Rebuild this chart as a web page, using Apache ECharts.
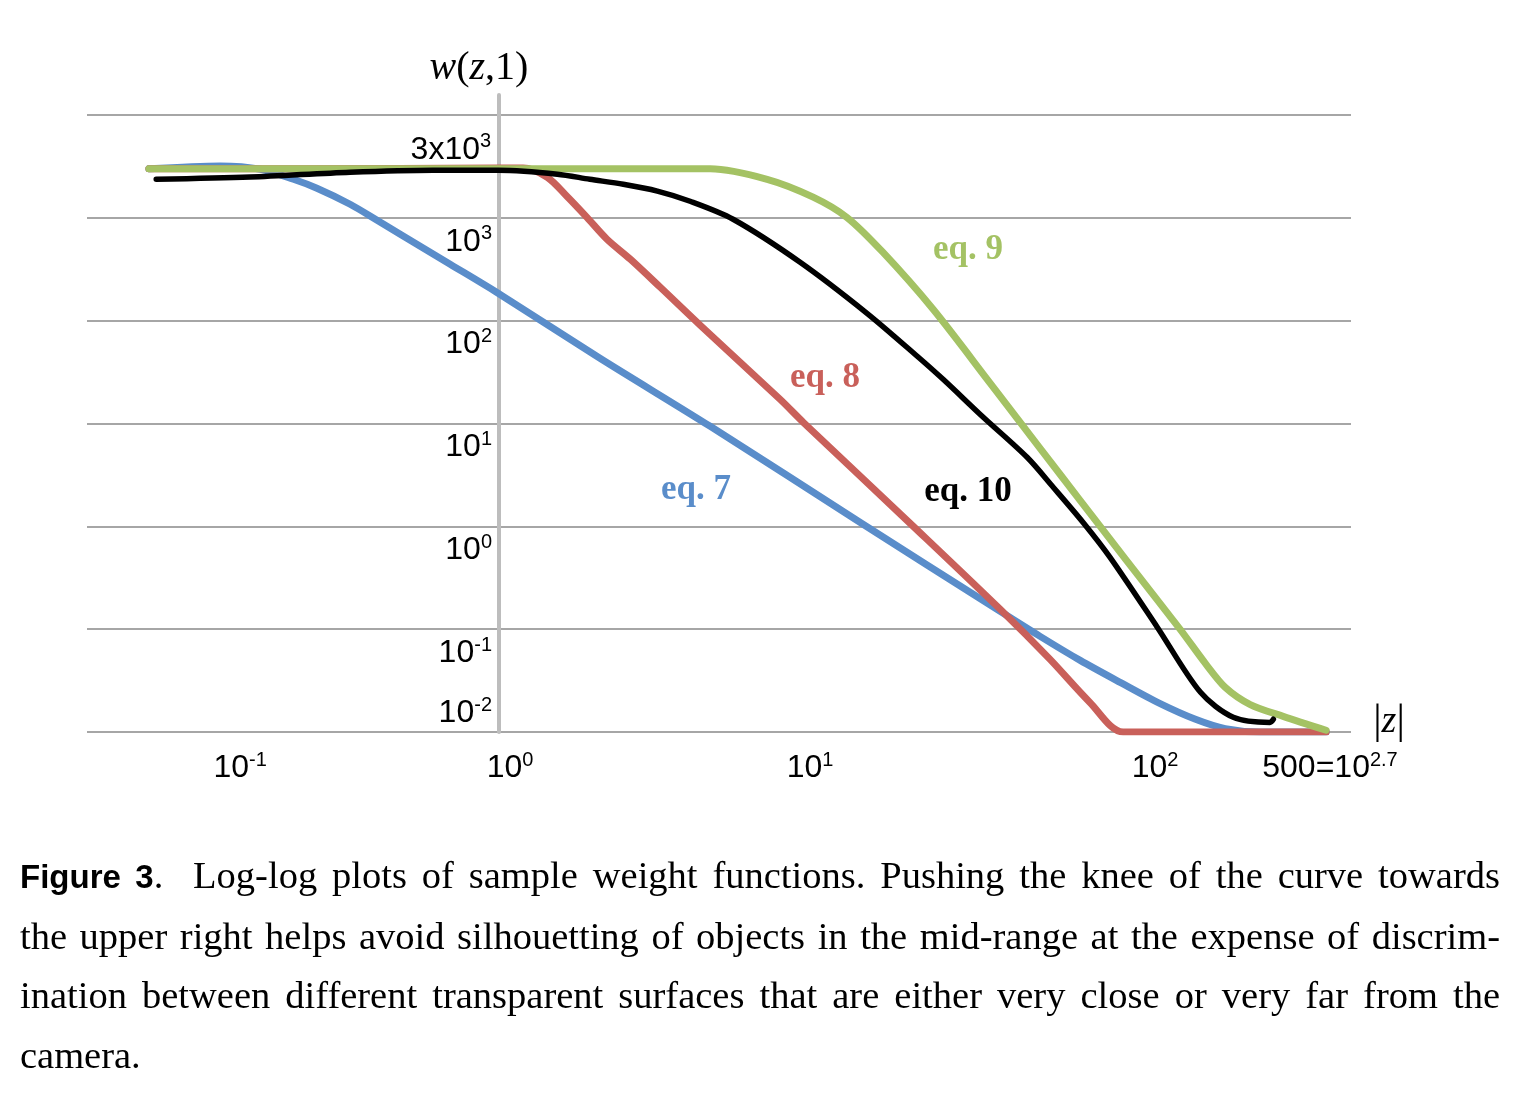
<!DOCTYPE html>
<html>
<head>
<meta charset="utf-8">
<script src="https://cdn.jsdelivr.net/npm/echarts@6/dist/echarts.min.js"></script>
<style>
html,body{margin:0;padding:0;background:#fff;}
#chart{position:absolute;left:0;top:0;width:1526px;height:1106px;}
#caption{position:absolute;left:20px;top:846px;width:1480px;font-family:"Liberation Serif","Times New Roman",serif;font-size:38.5px;line-height:59.5px;color:#000;}
#caption .ln{white-space:nowrap;text-align:justify;text-align-last:justify;}
#caption .last{text-align:left;text-align-last:left;}
#caption b{font-family:"Liberation Sans",Arial,sans-serif;font-weight:bold;font-size:33px;}
</style>
</head>
<body>
<div id="chart"></div>
<div id="caption">
<div class="ln"><b>Figure 3</b>.&nbsp; Log-log plots of sample weight functions. Pushing the knee of the curve towards</div>
<div class="ln">the upper right helps avoid silhouetting of objects in the mid-range at the expense of discrim-</div>
<div class="ln">ination between different transparent surfaces that are either very close or very far from the</div>
<div class="ln last">camera.</div>
</div>
<script>
// ---- data: |z| and w(z,1) ----
const eq7Z = [0.0785, 0.132, 0.177, 0.225, 0.267, 0.340, 0.414, 0.490, 0.705, 1.00, 2.10, 4.69, 14.0, 37.9, 51.9, 69.5, 93.0, 124, 161, 200, 258, 417];
const eq7W = [3000, 3200, 2970, 2370, 1940, 1356, 948, 692, 354, 185, 43.1, 9.39, 1.09, 0.156, 0.0851, 0.0497, 0.0304, 0.0190, 0.0133, 0.0108, 0.01, 0.01];

const eq8Z = [0.0785, 0.236, 1.00, 1.20, 1.43, 1.65, 1.91, 2.21, 2.62, 3.26, 4.36, 7.80, 9.23, 20.6, 38.8, 55.8, 74.6, 95.0, 167, 417];
const eq8W = [3000, 3000, 3050, 3050, 2480, 1620, 1010, 619, 396, 211, 90.2, 17.2, 10.3, 1.0, 0.156, 0.0508, 0.0194, 0.01, 0.01, 0.01];

const eq9Z = [0.0785, 0.236, 1.00, 4.69, 7.10, 9.93, 12.7, 16.5, 23.8, 36.1, 43.9, 60.0, 80.4, 97.9, 144, 173, 200, 240, 305, 417];
const eq9W = [3000, 3000, 3000, 3000, 2370, 1590, 1010, 463, 129, 24.6, 11.2, 3.21, 1.0, 0.457, 0.0996, 0.0465, 0.0272, 0.0185, 0.0142, 0.0104];

const eq10Z = [0.0828, 0.164, 0.340, 0.623, 1.00, 1.54, 1.95, 2.49, 3.19, 4.05, 5.54, 9.03, 14.7, 21.2, 25.6, 34.3, 47.2, 57.1, 71.0, 86.4, 122, 167, 212, 277, 284];
const eq10W = [2370, 2490, 2780, 2910, 2900, 2660, 2370, 2120, 1820, 1450, 969, 370, 118, 45.1, 26.9, 11.5, 4.69, 2.40, 1.09, 0.499, 0.104, 0.0243, 0.0139, 0.0124, 0.0133];

const seriesNames = ['eq. 7', 'eq. 8', 'eq. 9', 'eq. 10'];

// ---- tick labels ----
const xTickValues = [0.1, 1, 10, 100, 500];
const xTickLabels = [['10', '-1'], ['10', '0'], ['10', '1'], ['10', '2'], ['500=10', '2.7']];
const yTickValues = [1000, 100, 10, 1, 0.1, 0.01];
const yTickLabels = [['10', '3'], ['10', '2'], ['10', '1'], ['10', '0'], ['10', '-1'], ['10', '-2']];
const yPeakValue = 3000;
const yPeakLabel = ['3x10', '3'];

// ---- styling / layout ----
const colors = ['#5A8DCA', '#C9605A', '#A4C264', '#000000'];
const widths = [7, 7, 7, 5.5];
const labelFont = '"Liberation Sans", Arial, sans-serif';
const serif = '"Liberation Serif", "Times New Roman", serif';
const xLabelShift = [58, 12, -4, 25, -21]; // visual offsets of the reference's tick labels
const eqLabelPos = [[696, 490], [825, 378], [968, 250], [968, 492]];

function zip(a, b) { return a.map((v, i) => [v, b[i]]); }
function findIdx(values, v) {
  return values.findIndex(t => Math.abs(Math.log10(t) - Math.log10(v)) < 0.005);
}

const xRich = {
  m: { fontSize: 32, fontFamily: labelFont, color: '#000' },
  s: { fontSize: 20, fontFamily: labelFont, color: '#000', padding: [0, 0, 16, 0] }
};
xLabelShift.forEach((sh, i) => {
  xRich['sp' + i] = { width: Math.abs(sh) * 2, fontSize: 10 };
});

const yRich = {
  m: { fontSize: 32, fontFamily: labelFont, color: '#000', padding: [48, 0, 0, 0] },
  s: { fontSize: 20, fontFamily: labelFont, color: '#000', padding: [48, 0, 16, 0] },
  mu: { fontSize: 32, fontFamily: labelFont, color: '#000', padding: [0, 0, 38, 0] },
  su: { fontSize: 20, fontFamily: labelFont, color: '#000', padding: [0, 0, 54, 0] }
};

const chart = echarts.init(document.getElementById('chart'), null, { renderer: 'canvas' });

const seriesData = [zip(eq7Z, eq7W), zip(eq8Z, eq8W), zip(eq9Z, eq9W), zip(eq10Z, eq10W)];

const series = seriesData.map((d, i) => ({
  name: seriesNames[i],
  type: 'line',
  data: d,
  smooth: 0.3,
  symbol: 'none',
  showSymbol: false,
  clip: true,
  lineStyle: { color: colors[i], width: widths[i], cap: 'round', join: 'round' },
  itemStyle: { color: colors[i] },
  emphasis: { disabled: true },
  z: 3 + i
}));

series[3].markPoint = {
  symbol: 'circle',
  symbolSize: 0,
  silent: true,
  data: [{ coord: [1, yPeakValue] }],
  label: {
    show: true,
    position: 'left',
    distance: 7,
    offset: [0, -19],
    formatter: () => `{m|${yPeakLabel[0]}}{s|${yPeakLabel[1]}}`,
    rich: {
      m: { fontSize: 32, fontFamily: labelFont, color: '#000' },
      s: { fontSize: 20, fontFamily: labelFont, color: '#000', padding: [0, 0, 16, 0] }
    }
  }
};

const option = {
  animation: false,
  backgroundColor: '#ffffff',
  grid: { left: 87, right: 175, top: 95, bottom: 374, containLabel: false },
  xAxis: {
    type: 'log',
    logBase: 10,
    min: 0.05,
    max: 500,
    axisLine: { show: false, onZero: false },
    axisTick: { show: false },
    splitLine: { show: false },
    axisLabel: {
      show: true,
      margin: 18,
      showMinLabel: true,
      showMaxLabel: true,
      formatter: (v) => {
        const i = findIdx(xTickValues, v);
        if (i < 0) return '';
        const [b, s] = xTickLabels[i];
        const core = `{m|${b}}{s|${s}}`;
        const sh = xLabelShift[i];
        if (sh > 0) return `{sp${i}| }` + core;
        if (sh < 0) return core + `{sp${i}| }`;
        return core;
      },
      rich: xRich
    }
  },
  yAxis: {
    type: 'log',
    logBase: 10,
    min: 0.01,
    max: 15650,
    offset: -412,
    axisLine: { show: true, onZero: false, lineStyle: { color: '#BDBDBD', width: 4 } },
    axisTick: { show: false },
    splitLine: { show: true, showMaxLine: false, lineStyle: { color: '#A6A6A6', width: 2 } },
    axisLabel: {
      show: true,
      margin: 7,
      showMaxLabel: false,
      formatter: (v) => {
        const i = findIdx(yTickValues, v);
        if (i < 0) return '';
        const [b, s] = yTickLabels[i];
        if (yTickValues[i] === 0.01) return `{mu|${b}}{su|${s}}`;
        return `{m|${b}}{s|${s}}`;
      },
      rich: yRich
    }
  },
  series: series,
  graphic: [
    ...seriesNames.map((n, i) => ({
      type: 'text',
      x: eqLabelPos[i][0],
      y: eqLabelPos[i][1],
      silent: true,
      style: {
        text: n,
        fill: colors[i],
        font: 'bold 35px ' + serif,
        textAlign: 'center',
        textVerticalAlign: 'middle',
        align: 'center',
        verticalAlign: 'middle'
      }
    })),
    {
      type: 'text',
      x: 479,
      y: 68,
      silent: true,
      style: {
        text: '{i|w}{r|(}{i|z}{r|,1)}',
        textAlign: 'center', textVerticalAlign: 'middle', align: 'center', verticalAlign: 'middle',
        rich: {
          i: { fontSize: 40, fontStyle: 'italic', fontFamily: serif, fill: '#000' },
          r: { fontSize: 40, fontFamily: serif, fill: '#000' }
        }
      }
    },
    {
      type: 'text',
      x: 1389,
      y: 722,
      silent: true,
      style: {
        text: '{r||}{i|z}{r||}',
        textAlign: 'center', textVerticalAlign: 'middle', align: 'center', verticalAlign: 'middle',
        rich: {
          i: { fontSize: 38, fontStyle: 'italic', fontFamily: serif, fill: '#000' },
          r: { fontSize: 42, fontFamily: serif, fill: '#000' }
        }
      }
    }
  ]
};

chart.setOption(option);
</script>
</body>
</html>
